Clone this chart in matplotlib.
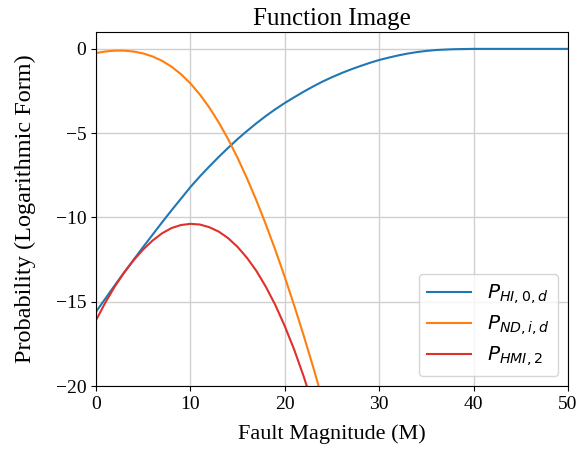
import matplotlib
matplotlib.use("Agg")
import matplotlib.pyplot as plt

# values (log probability vs fault magnitude)
x_hi = list(range(0, 51))
p_hi = [-15.6, -14.81, -14.02, -13.25, -12.5, -11.75, -11.02, -10.29, -9.58, -8.89,
        -8.2, -7.57, -6.98, -6.41, -5.87, -5.35, -4.87, -4.41, -3.98, -3.58,
        -3.21, -2.87, -2.54, -2.23, -1.94, -1.68, -1.44, -1.22, -1.02, -0.83,
        -0.66, -0.52, -0.39, -0.28, -0.19, -0.12, -0.07, -0.04, -0.02, -0.01,
        0.0, 0.0, 0.0, 0.0, 0.0, 0.0, 0.0, 0.0, 0.0, 0.0, 0.0]

x_nd = list(range(0, 25))
p_nd = [-0.25, -0.154, -0.106, -0.106, -0.159, -0.271, -0.451, -0.71, -1.056, -1.499,
        -2.047, -2.705, -3.475, -4.36, -5.359, -6.468, -7.685, -9.004, -10.423, -11.935,
        -13.538, -15.231, -17.006, -18.868, -20.813]

x_hmi = list(range(0, 24))
p_hmi = [-16.1, -15.04, -14.09, -13.26, -12.53, -11.9, -11.37, -10.94, -10.63, -10.45,
         -10.38, -10.42, -10.58, -10.84, -11.23, -11.75, -12.4, -13.18, -14.12, -15.2,
         -16.45, -17.85, -19.43, -21.18]

labels = [r"$P_{HI,0,d}$", r"$P_{ND,i,d}$", r"$P_{HMI,2}$"]

plt.rcParams["font.family"] = ["Liberation Serif", "DejaVu Serif"]
plt.rcParams["mathtext.fontset"] = "dejavusans"

fig = plt.figure(figsize=(5.86, 4.49), dpi=100)
ax = fig.add_axes([0.1638, 0.1403, 0.8055, 0.7884])

ax.plot(x_hi, p_hi, color="#1f77b4", lw=1.5, label=labels[0])
ax.plot(x_nd, p_nd, color="#ff7f0e", lw=1.5, label=labels[1])
ax.plot(x_hmi, p_hmi, color="#e0302a", lw=1.5, label=labels[2])

ax.set_xlim(0, 50)
ax.set_ylim(-20, 1)
ax.set_xticks([0, 10, 20, 30, 40, 50])
ax.set_yticks([0, -5, -10, -15, -20])
ax.tick_params(labelsize=14)
ax.grid(True, color="#d0d0d0", lw=1.0)

ax.set_title("Function Image", fontsize=18, pad=5)
ax.set_xlabel("Fault Magnitude (M)", fontsize=16, labelpad=8)
ax.set_ylabel("Probability (Logarithmic Form)", fontsize=17.5, labelpad=14)

ax.legend(loc="lower right", fontsize=14.5, handlelength=2.2, labelspacing=0.35)

fig.savefig("out.png", dpi=100)
